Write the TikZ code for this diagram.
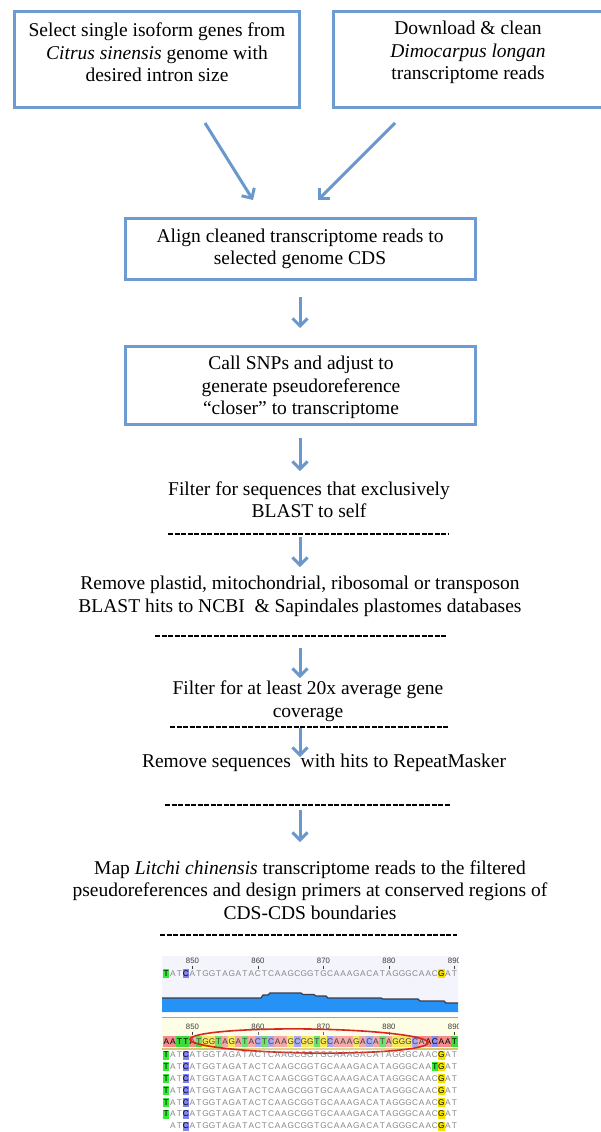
\documentclass[tikz,border=0pt]{standalone}
\usepackage{fontspec}
\setmainfont{Liberation Serif}
\newfontfamily\seqfont{Liberation Sans}
\usetikzlibrary{arrows.meta,shapes.geometric}
\definecolor{boxblue}{RGB}{110,156,208}
\definecolor{arrblue}{RGB}{104,152,205}
\definecolor{seqgray}{RGB}{135,135,135}
\definecolor{numgray}{RGB}{60,60,60}
\definecolor{upbg}{RGB}{243,244,252}
\definecolor{lowbg}{RGB}{254,253,230}
\definecolor{olive}{RGB}{190,175,40}
\definecolor{covblue}{RGB}{38,146,245}
\definecolor{covline}{RGB}{60,60,70}
\definecolor{seqA}{RGB}{245,140,140}
\definecolor{seqT}{RGB}{60,220,60}
\definecolor{seqG}{RGB}{245,225,40}
\definecolor{seqC}{RGB}{140,140,240}
\definecolor{hlT}{RGB}{50,235,50}
\definecolor{hlC}{RGB}{130,130,240}
\definecolor{hlG}{RGB}{245,225,0}
\definecolor{hlA}{RGB}{245,140,140}
\definecolor{ellred}{RGB}{215,40,30}
\makeatletter
% #1 name prefix, #2 y, #3 first index, #4 letters, #5 highlighted positions as ",a,b,"
\newcommand\seqrow[5]{%
  \foreach \c [count=\i from #3] in {#4} {%
    \edef\seqtest{\noexpand\in@{,\i,}{#5}}\seqtest
    \ifin@
      \node[seqhl, fill=hl\c] (#1\i) at ({163+(\i-0.5)*6.55},{#2}) {\c};
    \else
      \node[seqtxt] (#1\i) at ({163+(\i-0.5)*6.55},{#2}) {\c};
    \fi
  }}
\makeatother
\begin{document}
\begin{tikzpicture}[x=1pt,y=-1pt,
  box/.style={draw=boxblue, line width=3pt, inner sep=0},
  lbl/.style={font=\fontsize{19.5}{22.5}\selectfont, align=center, inner sep=0},
  flow/.style={draw=arrblue, line width=3pt, -{Straight Barb[length=7.5pt,width=15pt]}},
  sepline/.style={line width=2.2pt, dash pattern=on 5pt off 1.5pt},
  seqtxt/.style={font=\seqfont\fontsize{8.3}{8.3}\selectfont, text=seqgray, inner sep=0},
  seqhl/.style={seqtxt, text=black, minimum width=6.3pt, minimum height=9pt},
  refcell/.style={seqtxt, text=black, minimum width=6.6pt, minimum height=10.5pt},
  num/.style={font=\seqfont\fontsize{7.8}{7.8}\selectfont, text=numgray, inner sep=0},
]
\useasboundingbox (0,0) rectangle (600,1132);

% boxes
\node[box, minimum width=285pt, minimum height=96pt] (b1) at (157,59.5) {};
\node[box, minimum width=282pt, minimum height=96pt] (b2) at (474,59.5) {};
\node[box, minimum width=350pt, minimum height=61pt] (b3) at (300.5,249) {};
\node[box, minimum width=350pt, minimum height=78pt] (b4) at (300.5,385.5) {};

% texts
\node[lbl] (t1) at (157,52.5) {Select single isoform genes from\\\textit{Citrus sinensis} genome with\\desired intron size};
\node[lbl] (t2) at (468,52.5) {Download \& clean\\\textit{Dimocarpus longan}\\transcriptome reads};
\node[lbl] (t3) at (300,249) {Align cleaned transcriptome reads to\\selected genome CDS};
\node[lbl] (t4) at (301,387.5) {Call SNPs and adjust to\\generate pseudoreference\\“closer” to transcriptome};
\node[lbl] (t5) at (309,499.5) {Filter for sequences that exclusively\\BLAST to self};
\node[lbl] (t6) at (300,596.5) {Remove plastid, mitochondrial, ribosomal or transposon\\BLAST hits to NCBI\ \ \& Sapindales plastomes databases};
\node[lbl] (t7) at (308,701) {Filter for at least 20x average gene\\coverage};
\node[lbl] (t8) at (324,763) {Remove sequences\ \ with hits to RepeatMasker};
\node[lbl] (t9) at (310,890) {Map \textit{Litchi chinensis} transcriptome reads to the filtered\\pseudoreferences and design primers at conserved regions of\\CDS-CDS boundaries};

% separators
\coordinate (d1a) at (168,534); \coordinate (d1b) at (448,534);
\coordinate (d2a) at (155,636); \coordinate (d2b) at (446,636);
\coordinate (d3a) at (170,727); \coordinate (d3b) at (448,727);
\coordinate (d4a) at (165,805); \coordinate (d4b) at (450,805);
\coordinate (d5a) at (160,935); \coordinate (d5b) at (457,935);
\foreach \k in {1,...,5} {\draw[sepline] (d\k a) -- (d\k b);}

% arrows
\coordinate (a1s) at (205,123); \coordinate (a1e) at (253,200);
\coordinate (a2s) at (395,123); \coordinate (a2e) at (318,200);
\coordinate (a3s) at (300,297); \coordinate (a3e) at (300,328);
\coordinate (a4s) at (300,438); \coordinate (a4e) at (300,471);
\coordinate (a5s) at (300,537); \coordinate (a5e) at (300,567);
\coordinate (a6s) at (300,648); \coordinate (a6e) at (300,678);
\coordinate (a7s) at (300,728); \coordinate (a7e) at (300,757);
\coordinate (a8s) at (300,810); \coordinate (a8e) at (300,842);
\foreach \k in {1,...,8} {\draw[flow] (a\k s) -- (a\k e);}

% alignment screenshot
\begin{scope}
\clip (162,955) rectangle (458,1132);
\fill[upbg] (162,956) rectangle (458,1012);
\fill[lowbg] (162,1017) rectangle (458,1049);
\draw[olive, line width=1pt] (162,1017.5) -- (458,1017.5);
\draw[olive!70, line width=1.5pt] (162,1049) -- (458,1049);
% coverage
\fill[covblue] (162,1012) -- (162,998) -- (261,998) -- (263,995) -- (268,995) -- (270,993) -- (301,993) -- (303,994.5) -- (314,994.5) -- (316,996) -- (326,996) -- (328,998) -- (381,998) -- (383,999) -- (418,999) -- (420,1001) -- (444,1001) -- (446,1003) -- (458,1003) -- (458,1012) -- cycle;
\draw[covline, line width=1.2pt] (162,998) -- (261,998) -- (263,995) -- (268,995) -- (270,993) -- (301,993) -- (303,994.5) -- (314,994.5) -- (316,996) -- (326,996) -- (328,998) -- (381,998) -- (383,999) -- (418,999) -- (420,1001) -- (444,1001) -- (446,1003) -- (458,1003);
% rulers
\foreach \n/\i in {850/5,860/15,870/25,880/35,890/45} {
  \node[num] (un\n) at ({163+(\i-0.5)*6.55},961) {\n};
  \draw[numgray, line width=0.8pt] ({163+(\i-0.5)*6.55},965.5) -- ++(0,3.5);
  \node[num] (ln\n) at ({163+(\i-0.5)*6.55},1027) {\n};
  \draw[numgray, line width=0.8pt] ({163+(\i-0.5)*6.55},1031.5) -- ++(0,3.5);
}
% upper consensus row
\seqrow{u}{973.5}{1}{T,A,T,C,A,T,G,G,T,A,G,A,T,A,C,T,C,A,A,G,C,G,G,T,G,C,A,A,A,G,A,C,A,T,A,G,G,G,C,A,A,C,G,A,T}{,1,4,43,}
% reference coloured row
\foreach \c [count=\i] in {A,A,T,T,A,T,G,G,T,A,G,A,T,A,C,T,C,A,A,G,C,G,G,T,G,C,A,A,A,G,A,C,A,T,A,G,G,G,C,A,A,C,A,A,T}
  {\node[refcell, fill=seq\c] (f\i) at ({163+(\i-0.5)*6.55},1041.5) {\c};}
\node[ellipse, draw=ellred, line width=1.6pt, fill=white, fill opacity=0.25, minimum width=238pt, minimum height=24pt, inner sep=0, rotate=-0.8] (ring) at (309,1041) {};
% reads
\foreach \k in {1,3,4,5,6} {
  \seqrow{r\k-}{1055+11.8*(\k-1)}{1}{T,A,T,C,A,T,G,G,T,A,G,A,T,A,C,T,C,A,A,G,C,G,G,T,G,C,A,A,A,G,A,C,A,T,A,G,G,G,C,A,A,C,G,A,T}{,1,4,43,}
}
\seqrow{r2-}{1066.8}{1}{T,A,T,C,A,T,G,G,T,A,G,A,T,A,C,T,C,A,A,G,C,G,G,T,G,C,A,A,A,G,A,C,A,T,A,G,G,G,C,A,A,T,G,A,T}{,1,4,42,43,}
\seqrow{r7-}{1126}{2}{A,T,C,A,T,G,G,T,A,G,A,T,A,C,T,C,A,A,G,C,G,G,T,G,C,A,A,A,G,A,C,A,T,A,G,G,G,C,A,A,C,G,A,T}{,4,43,}
\end{scope}
\end{tikzpicture}
\end{document}
